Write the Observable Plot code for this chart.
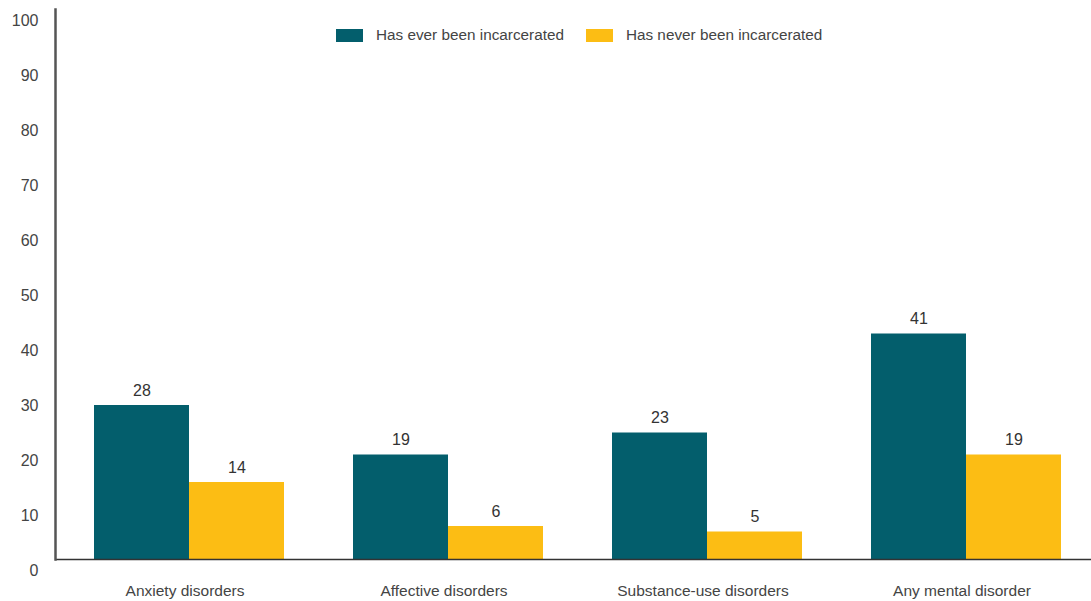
<!DOCTYPE html>
<html>
<head>
<meta charset="utf-8">
<script src="https://cdn.jsdelivr.net/npm/d3@7"></script>
<script src="https://cdn.jsdelivr.net/npm/@observablehq/plot@0.6"></script>
<style>
  html, body { margin: 0; padding: 0; background: #fff; overflow: hidden; }
  #wrap { position: relative; width: 1091px; height: 601px; }
  #legend { position: absolute; left: 336px; top: 26px; display: flex; align-items: center;
    font-family: 'Liberation Sans', Arial, sans-serif;
    font-size: 15.3px; color: #444; white-space: nowrap; }
  .sw { width: 27px; height: 13px; margin-right: 13px; }
  .item { display: flex; align-items: center; margin-right: 22px; }
</style>
</head>
<body>
<div id="wrap"><div id="legend"></div></div>
<script>
const categories = ["Anxiety disorders", "Affective disorders", "Substance-use disorders", "Any mental disorder"];
const series = ["Has ever been incarcerated", "Has never been incarcerated"];
const everValues = [28, 19, 23, 41];
const neverValues = [14, 6, 5, 19];
const colors = ["#035e6c", "#fcbd14"];
const yTicks = [0, 10, 20, 30, 40, 50, 60, 70, 80, 90, 100];

const data = [];
categories.forEach((c, i) => {
  data.push({category: c, series: series[0], value: everValues[i]});
  data.push({category: c, series: series[1], value: neverValues[i]});
});

const font = "'Liberation Sans', Arial, sans-serif";

const chart = Plot.plot({
  width: 1091,
  height: 601,
  marginLeft: 55,
  marginRight: 0,
  marginTop: 9,
  marginBottom: 42,
  style: {fontFamily: font, fontSize: "15.5px", color: "#444", background: "#fff"},
  fx: {domain: categories, paddingInner: 0, paddingOuter: 0, label: null},
  x: {domain: series, paddingInner: 0, paddingOuter: 0.35, align: 0.56, axis: null},
  y: {domain: [0, 100], label: null},
  color: {domain: series, range: colors},
  marks: [
    Plot.barY(data, {fx: "category", x: "series", y: "value", fill: "series"}),
    Plot.text(data, {fx: "category", x: "series", y: "value", text: d => String(d.value),
      dy: -10, lineAnchor: "bottom", fill: "#333", fontSize: 16}),
    Plot.ruleY([0], {stroke: "#333", strokeWidth: 1.5}),
    Plot.frame({anchor: "left", facetAnchor: "left", stroke: "#555", strokeWidth: 2.5}),
    Plot.axisY({ticks: yTicks, tickSize: 0, tickPadding: 17, dy: 11, label: null, fontSize: 16, fill: "#444"}),
    Plot.axisFx({anchor: "bottom", tickSize: 0, tickPadding: 25, label: null, fontSize: 15.5, fill: "#444"})
  ]
});

document.getElementById("wrap").prepend(chart);
const legend = document.getElementById("legend");
series.forEach((s, i) => {
  const item = document.createElement("div");
  item.className = "item";
  const sw = document.createElement("div");
  sw.className = "sw";
  sw.style.background = colors[i];
  const t = document.createElement("span");
  t.textContent = s;
  item.append(sw, t);
  legend.append(item);
});
</script>
</body>
</html>
